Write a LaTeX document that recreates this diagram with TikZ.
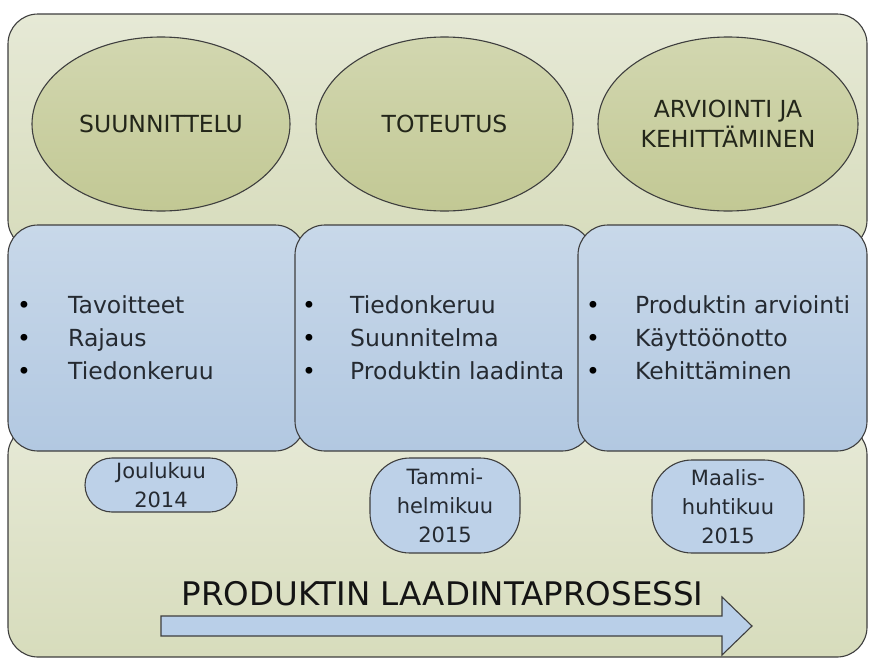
\documentclass[tikz,border=0pt]{standalone}
\usepackage{fontspec}
\setmainfont{DejaVu Sans}
\usetikzlibrary{shapes.geometric}
\definecolor{edge}{HTML}{3E3E3E}
\definecolor{panTop}{HTML}{E6E9D6}
\definecolor{panBot}{HTML}{D7DCBC}
\definecolor{ellTop}{HTML}{D2D7B0}
\definecolor{ellBot}{HTML}{C2C894}
\definecolor{boxTop}{HTML}{C8D8E9}
\definecolor{boxBot}{HTML}{B2C8E1}
\definecolor{pillFill}{HTML}{BDD1E8}
\definecolor{arrFill}{HTML}{B9CFE8}
\definecolor{ellText}{HTML}{23261A}
\definecolor{itemText}{HTML}{252A31}
\begin{document}
\begin{tikzpicture}[x=1pt,y=-1pt,
  panel/.style={draw=edge,line width=1.1pt,rounded corners=30pt,top color=panTop,bottom color=panBot,minimum width=859pt,inner sep=0pt},
  stagebox/.style={draw=edge,line width=1.1pt,rounded corners=30pt,top color=boxTop,bottom color=boxBot,minimum height=226pt,inner sep=0pt},
  phase/.style={ellipse,draw=edge,line width=1.1pt,top color=ellTop,bottom color=ellBot,minimum height=174pt,inner sep=0pt,align=center,text=ellText,font=\fontsize{23.5}{30}\selectfont},
  bul/.style={anchor=base west,inner sep=0pt,text=black,font=\fontsize{23.5}{30}\selectfont},
  item/.style={anchor=base west,inner sep=0pt,text=itemText,font=\fontsize{23.5}{30}\selectfont},
  pill/.style={draw=edge,line width=1.1pt,fill=pillFill,inner sep=0pt,align=center,text=itemText,font=\fontsize{21}{29}\selectfont},
  arrowshape/.style={draw=edge,line width=1.1pt,fill=arrFill,line join=miter}
]
\fill[white] (0,0) rectangle (869,659);
\useasboundingbox (0,0) rectangle (869,659);

% background panels
\node[panel,minimum height=236pt] (toppanel) at (437.5,132) {};
\node[panel,minimum height=232pt] (botpanel) at (437.5,541) {};

% stage boxes
\node[stagebox,minimum width=297pt] (box1) at (156.5,338) {};
\node[stagebox,minimum width=297pt] (box2) at (443.5,338) {};
\node[stagebox,minimum width=289pt] (box3) at (722.5,338) {};

% phase ellipses
\node[phase,minimum width=258pt] (e1) at (161,124) {SUUNNITTELU};
\node[phase,minimum width=257pt] (e2) at (444.5,124) {TOTEUTUS};
\node[phase,minimum width=260pt] (e3) at (728,124) {ARVIOINTI JA\\KEHITTÄMINEN};

% bullet lists
\foreach \t [count=\i] in {Tavoitteet,Rajaus,Tiedonkeruu}{
  \node[bul] (b1\i) at (17,280+33*\i) {•};
  \node[item] (t1\i) at (68,280+33*\i) {\t};
}
\foreach \t [count=\i] in {Tiedonkeruu,Suunnitelma,Produktin laadinta}{
  \node[bul] (b2\i) at (302,280+33*\i) {•};
  \node[item] (t2\i) at (350,280+33*\i) {\t};
}
\foreach \t [count=\i] in {Produktin arviointi,Käyttöönotto,Kehittäminen}{
  \node[bul] (b3\i) at (586,280+33*\i) {•};
  \node[item] (t3\i) at (635,280+33*\i) {\t};
}

% date pills
\node[pill,minimum width=152pt,minimum height=54pt,rounded corners=27pt] (p1) at (161,485) {Joulukuu\\2014};
\node[pill,minimum width=150pt,minimum height=95pt,rounded corners=40pt] (p2) at (445,505.5) {Tammi-\\helmikuu\\2015};
\node[pill,minimum width=152pt,minimum height=93pt,rounded corners=40pt] (p3) at (728,506.5) {Maalis-\\huhtikuu\\2015};

% title and process arrow
\node[anchor=base,inner sep=0pt,text=black!92,font=\fontsize{32.5}{36}\selectfont] (title) at (442.5,605) {PRODUKTIN LAADINTAPROSESSI};
\draw[arrowshape] (161,616) -- (722,616) -- (722,597) -- (752,626) -- (722,655) -- (722,636) -- (161,636) -- cycle;
\end{tikzpicture}
\end{document}
